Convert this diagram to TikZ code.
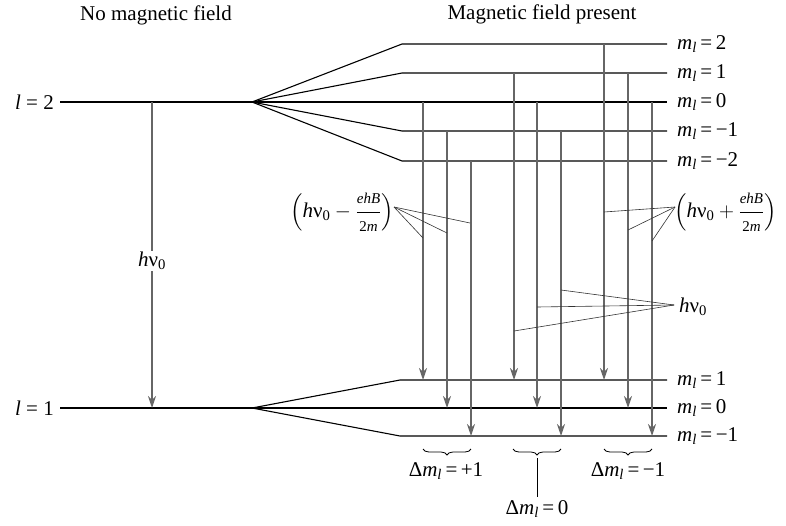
\documentclass[tikz,border=0pt]{standalone}
\usepackage{fontspec}
\usepackage{amsmath}
\setmainfont{Liberation Serif}
\usetikzlibrary{arrows.meta,decorations.pathreplacing}
\newcommand{\hnuz}{\textit{h}ν\textsubscript{0}}
\newcommand{\mlab}[1]{\textit{m}\textsubscript{\textit{l}}\,=\,#1}
\newcommand{\dmlab}[1]{Δ\textit{m}\textsubscript{\textit{l}}\,=\,#1}
\newcommand{\smallfr}[1]{\text{\fontsize{15}{16}\selectfont #1}}
\begin{document}
\begin{tikzpicture}[x=1pt,y=-1pt,font=\fontsize{21}{24}\selectfont,
  lvl/.style={line width=1.1pt,black},
  trans/.style={line width=1.6pt,black!60,-{Stealth[length=12pt,width=8pt]}},
  ptr/.style={line width=0.6pt,black!80},
  lbl/.style={anchor=west,inner sep=0pt},
  brc/.style={decorate,decoration={brace,mirror,amplitude=6pt},line width=0.8pt}]
\useasboundingbox (0,0) rectangle (786,525);

% titles
\node (t1) at (156,15) {No magnetic field};
\node (t2) at (542,14) {Magnetic field present};

% l = 2 and its splitting
\coordinate (L2a) at (60,102);
\coordinate (s2) at (252,102);
\node[anchor=east,inner sep=0pt] (l2) at (54,102) {\textit{l} = 2};
\foreach \n/\y in {2/44,1/73,0/102,m1/131,m2/161}{
  \coordinate (U\n a) at (402,\y);
  \coordinate (U\n b) at (667,\y);
}
\draw[lvl] (L2a) -- (s2);
\draw[lvl] (s2) -- (U2a) -- (U2b);
\draw[lvl] (s2) -- (U1a) -- (U1b);
\draw[lvl] (s2) -- (U0b);
\draw[lvl] (s2) -- (Um1a) -- (Um1b);
\draw[lvl] (s2) -- (Um2a) -- (Um2b);
\node[lbl] (mu2) at (677,44) {\mlab{2}};
\node[lbl] (mu1) at (677,73) {\mlab{1}};
\node[lbl] (mu0) at (677,102) {\mlab{0}};
\node[lbl] (mum1) at (677,131) {\mlab{−1}};
\node[lbl] (mum2) at (677,161) {\mlab{−2}};

% l = 1 and its splitting
\coordinate (L1a) at (60,408);
\coordinate (s1) at (252,408);
\node[anchor=east,inner sep=0pt] (l1) at (54,408) {\textit{l} = 1};
\foreach \n/\y in {1/380,0/408,m1/436}{
  \coordinate (D\n a) at (400,\y);
  \coordinate (D\n b) at (667,\y);
}
\draw[lvl] (L1a) -- (s1);
\draw[lvl] (s1) -- (D1a) -- (D1b);
\draw[lvl] (s1) -- (D0b);
\draw[lvl] (s1) -- (Dm1a) -- (Dm1b);
\node[lbl] (md1) at (677,380) {\mlab{1}};
\node[lbl] (md0) at (677,408) {\mlab{0}};
\node[lbl] (mdm1) at (677,436) {\mlab{−1}};

% unsplit transition
\coordinate (bt) at (152,102);
\coordinate (bb) at (152,408);
\draw[trans] (bt) -- node[fill=white,text=black,inner sep=1pt,pos=0.52] (hv) {\hnuz} (bb);

% split transitions
\foreach \i/\x/\ya/\yb in {1/423/102/380, 2/447/131/408, 3/471/161/436,
                           4/514/73/380,  5/537/102/408, 6/561/131/436,
                           7/604/44/380,  8/628/73/408,  9/652/102/436}{
  \coordinate (a\i t) at (\x,\ya);
  \coordinate (a\i b) at (\x,\yb);
  \draw[trans] (a\i t) -- (a\i b);
}

% pointer labels
\node[anchor=east,inner sep=0pt] (fm) at (394,212)
  {$\left(\text{\hnuz} - \dfrac{\smallfr{\textit{ehB}}}{\smallfr{2\textit{m}}}\right)$};
\coordinate (pL) at (394,207);
\coordinate (pL1) at (470,223);
\coordinate (pL2) at (447,233);
\coordinate (pL3) at (423,238);
\draw[ptr] (pL) -- (pL1);
\draw[ptr] (pL) -- (pL2);
\draw[ptr] (pL) -- (pL3);

\node[anchor=west,inner sep=0pt] (fp) at (674,212)
  {$\left(\text{\hnuz} + \dfrac{\smallfr{\textit{ehB}}}{\smallfr{2\textit{m}}}\right)$};
\coordinate (pR) at (675,207);
\coordinate (pR1) at (604,212);
\coordinate (pR2) at (628,230);
\coordinate (pR3) at (652,241);
\draw[ptr] (pR) -- (pR1);
\draw[ptr] (pR) -- (pR2);
\draw[ptr] (pR) -- (pR3);

\node[lbl] (hm) at (679,307) {\hnuz};
\coordinate (pM) at (674,305);
\coordinate (pM1) at (561,290);
\coordinate (pM2) at (537,307);
\coordinate (pM3) at (514,331);
\draw[ptr] (pM) -- (pM1);
\draw[ptr] (pM) -- (pM2);
\draw[ptr] (pM) -- (pM3);

% braces
\coordinate (b1a) at (423,449); \coordinate (b1b) at (471,449);
\coordinate (b2a) at (513,449); \coordinate (b2b) at (561,449);
\coordinate (b3a) at (604,449); \coordinate (b3b) at (652,449);
\draw[brc] (b1a) -- (b1b);
\draw[brc] (b2a) -- (b2b);
\draw[brc] (b3a) -- (b3b);
\node (dp) at (446,471) {\dmlab{+1}};
\node (dn) at (628,471) {\dmlab{−1}};
\coordinate (st) at (537,458);
\node (dz) at (537,509) {\dmlab{0}};
\draw[line width=0.6pt] (st) -- (dz.north);
\end{tikzpicture}
\end{document}
